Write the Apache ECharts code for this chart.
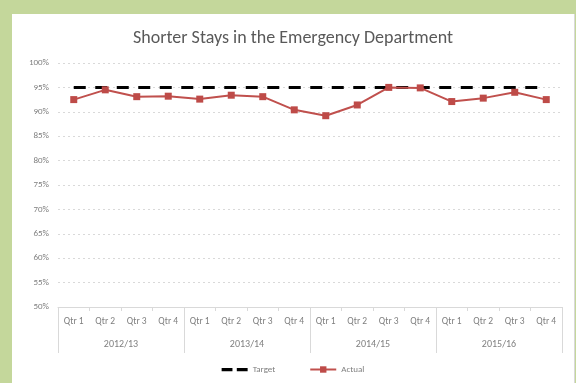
<!DOCTYPE html>
<html>
<head>
<meta charset="utf-8">
<script src="https://cdn.jsdelivr.net/npm/echarts@6/dist/echarts.min.js"></script>
<style>
  html, body { margin: 0; padding: 0; width: 576px; height: 383px; background: #c4d79b; overflow: hidden; }
  #chart { position: absolute; left: 12px; top: 14px; width: 562px; height: 369px; background: #ffffff; border-right: 1px solid #d9d9d9; }
</style>
</head>
<body>
<div id="chart"></div>
<script>
// Quarterly share of patients with a short stay in the ED, against the 95% target
const quarters = ['Qtr 1', 'Qtr 2', 'Qtr 3', 'Qtr 4',
                  'Qtr 1', 'Qtr 2', 'Qtr 3', 'Qtr 4',
                  'Qtr 1', 'Qtr 2', 'Qtr 3', 'Qtr 4',
                  'Qtr 1', 'Qtr 2', 'Qtr 3', 'Qtr 4'];
const years = ['2012/13', '2013/14', '2014/15', '2015/16'];
const target = [95, 95, 95, 95, 95, 95, 95, 95, 95, 95, 95, 95, 95, 95, 95, 95];
const actual = [92.5, 94.5, 93.1, 93.2, 92.6, 93.4, 93.1, 90.4,
                89.2, 91.4, 95.0, 94.9, 92.1, 92.8, 94.0, 92.5];
const yTicks = { min: 50, max: 100, step: 5 };

const grey = '#7f7f7f';
const font = 'Calibri, Carlito, "Open Sans", "Liberation Sans", sans-serif';

const chart = echarts.init(document.getElementById('chart'));
chart.setOption({
  animation: false,
  title: {
    text: 'Shorter Stays in the Emergency Department',
    left: 'center',
    top: 10,
    textStyle: { fontFamily: font, fontSize: 18, fontWeight: 'normal', color: '#595959' }
  },
  legend: {
    bottom: 4,
    left: 'center',
    itemWidth: 26,
    itemHeight: 8,
    itemGap: 34,
    textStyle: { fontFamily: font, fontSize: 9, color: grey },
    data: [
      // two short heavy dashes for the target key
      { name: 'Target', icon: 'path://M0,0H10V3H0Z M14,0H24V3H14Z' },
      { name: 'Actual' }
    ]
  },
  grid: { left: 46, right: 12, top: 49, bottom: 76 },
  xAxis: [
    {
      type: 'category',
      data: quarters,
      boundaryGap: true,
      axisLine: { lineStyle: { color: '#d9d9d9' } },
      axisTick: { show: true, length: 4, lineStyle: { color: '#d9d9d9' } },
      axisLabel: { fontFamily: font, fontSize: 9.5, color: grey, margin: 10, interval: 0 }
    },
    {
      type: 'category',
      data: years,
      position: 'bottom',
      boundaryGap: true,
      axisLine: { show: false },
      axisTick: { show: true, length: 46, lineStyle: { color: '#d9d9d9' } },
      axisLabel: { fontFamily: font, fontSize: 10, color: grey, margin: 32 }
    }
  ],
  yAxis: {
    type: 'value',
    min: yTicks.min,
    max: yTicks.max,
    interval: yTicks.step,
    axisLine: { show: false },
    axisTick: { show: false },
    axisLabel: { formatter: '{value}%', fontFamily: font, fontSize: 9, color: grey, margin: 9 },
    splitLine: { lineStyle: { color: '#d9d9d9', type: [2, 3] } }
  },
  series: [
    {
      name: 'Target',
      type: 'line',
      xAxisIndex: 0,
      data: target,
      symbol: 'none',
      color: '#000000',
      lineStyle: { color: '#000000', width: 3, type: [12, 9.5], cap: 'butt' }
    },
    {
      name: 'Actual',
      type: 'line',
      xAxisIndex: 0,
      data: actual,
      symbol: 'rect',
      symbolSize: 7,
      color: '#c0504d',
      itemStyle: { color: '#be4b48' },
      lineStyle: { color: '#c0504d', width: 2 }
    }
  ]
});
</script>
</body>
</html>
